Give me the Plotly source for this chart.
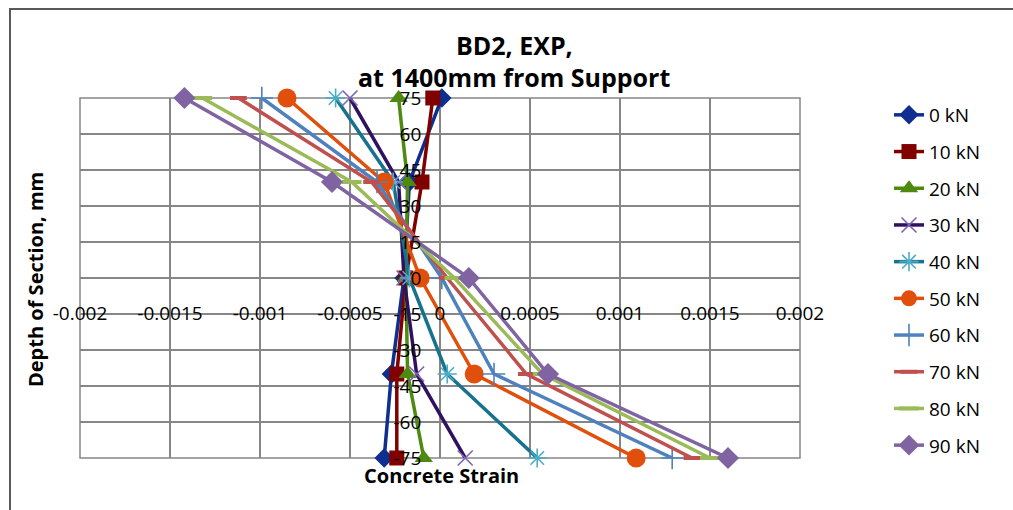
import plotly.graph_objects as go

# Depth of section (mm) at each strain gauge level
depth = [75, 40, 0, -40, -75]

# Concrete strain readings per load step
load_labels = ["0 kN", "10 kN", "20 kN", "30 kN", "40 kN",
               "50 kN", "60 kN", "70 kN", "80 kN", "90 kN"]
strain_0kN = [0.00001, -0.00017, -0.00020, -0.00027, -0.00031]
strain_10kN = [-0.00004, -0.00010, -0.00019, -0.00024, -0.00024]
strain_20kN = [-0.00023, -0.00018, -0.00019, -0.00018, -0.00009]
strain_30kN = [-0.00050, -0.00023, -0.00020, -0.00013, 0.00014]
strain_40kN = [-0.00058, -0.00026, -0.00017, 0.00004, 0.00054]
strain_50kN = [-0.00085, -0.00031, -0.00011, 0.00019, 0.00109]
strain_60kN = [-0.00099, -0.00035, 0.00001, 0.00030, 0.00129]
strain_70kN = [-0.00112, -0.00038, 0.00004, 0.00048, 0.00140]
strain_80kN = [-0.00132, -0.00049, 0.00008, 0.00057, 0.00150]
strain_90kN = [-0.00142, -0.00060, 0.00016, 0.00060, 0.00160]

x_tickvals = [-0.002, -0.0015, -0.001, -0.0005, 0, 0.0005, 0.001, 0.0015, 0.002]
x_ticktext = ["-0.002", "-0.0015", "-0.001", "-0.0005", "0", "0.0005", "0.001", "0.0015", "0.002"]
y_tickvals = [-75, -60, -45, -30, -15, 0, 15, 30, 45, 60, 75]
y_ticktext = ["-75", "-60", "-45", "-30", "-15", "0", "15", "30", "45", "60", "75"]

series = [strain_0kN, strain_10kN, strain_20kN, strain_30kN, strain_40kN,
          strain_50kN, strain_60kN, strain_70kN, strain_80kN, strain_90kN]

# line colour, marker symbol, marker size, marker fill, marker outline
styles = [
    ("#0e2f8f", "diamond", 15, "#0e2f8f", None),
    ("#800000", "square", 15, "#800000", None),
    ("#4f8a10", "triangle-up", 16, "#4f8a10", None),
    ("#2f1160", "x-thin-open", 15, None, "#7e63b8"),
    ("#17728e", "asterisk-open", 16, None, "#4bacc6"),
    ("#e0500c", "circle", 19, "#e0500c", None),
    ("#4f81bd", "cross-thin-open", 16, None, "#4f81bd"),
    ("#c0504d", "line-ew-open", 12, None, "#c0504d"),
    ("#9bbb59", "line-ew-open", 14, None, "#9bbb59"),
    ("#8064a2", "diamond", 17, "#8064a2", None),
]

FONT = "Open Sans"

fig = go.Figure()
for name, xs, (lc, sym, size, fill, outline) in zip(load_labels, series, styles):
    marker = dict(symbol=sym, size=size)
    if fill is not None:
        marker["color"] = fill
        marker["line"] = dict(width=0)
    else:
        marker["color"] = outline
        marker["line"] = dict(color=outline, width=1.6 if "line-ew" not in sym else 4)
    fig.add_trace(go.Scatter(
        x=xs, y=depth, name=name, mode="lines+markers",
        line=dict(color=lc, width=3.5),
        marker=marker, cliponaxis=False, legendgroup=name,
    ))

grid = "#868686"
fig.update_layout(
    width=1013, height=510,
    margin=dict(l=80, r=213, t=98, b=52),
    paper_bgcolor="white", plot_bgcolor="white",
    font=dict(family=FONT, color="#000000", size=19),
    showlegend=True,
    legend=dict(xref="container", yref="container",
                x=889 / 1013, y=1 - 96 / 510, xanchor="left", yanchor="top",
                font=dict(family=FONT, size=19), tracegroupgap=9,
                maxheight=420, bgcolor="rgba(0,0,0,0)"),
    xaxis=dict(range=[-0.002, 0.002], tickvals=x_tickvals, ticktext=x_ticktext,
               showgrid=True, gridcolor=grid, gridwidth=1.5, zeroline=False,
               showline=False, ticks="", anchor="free", position=0.44,
               tickfont=dict(size=19, family=FONT)),
    yaxis=dict(range=[-75, 75], tickvals=y_tickvals, ticktext=y_ticktext,
               showgrid=True, gridcolor=grid, gridwidth=1.5, zeroline=False,
               showline=False, ticks="", anchor="free", position=0.474,
               tickfont=dict(size=19, family=FONT)),
    shapes=[
        # plot-area frame on the outer grid edges
        dict(type="rect", xref="paper", yref="paper", x0=0, x1=1, y0=0, y1=1,
             line=dict(color=grid, width=1.5), layer="below"),
        # chart-area border
        dict(type="rect", xref="paper", yref="paper", x0=(10 - 80) / 720, x1=1.5,
             y0=-0.3, y1=(458 - 9) / 360,
             line=dict(color="#595959", width=2), layer="below"),
    ],
    annotations=[
        dict(text="<b>BD2, EXP,</b>", xref="paper", yref="paper",
             x=(514 - 80) / 720, y=(458 - 45) / 360, xanchor="center", yanchor="middle",
             showarrow=False, font=dict(size=25, family=FONT)),
        dict(text="<b>at 1400mm from Support</b>", xref="paper", yref="paper",
             x=(514 - 80) / 720, y=(458 - 77) / 360, xanchor="center", yanchor="middle",
             showarrow=False, font=dict(size=25, family=FONT)),
        dict(text="<b>Concrete Strain</b>", xref="paper", yref="paper",
             x=(441 - 80) / 720, y=(458 - 475) / 360, xanchor="center", yanchor="middle",
             showarrow=False, font=dict(size=20, family=FONT)),
        dict(text="<b>Depth of Section, mm</b>", xref="paper", yref="paper",
             x=(35 - 80) / 720, y=(458 - 280) / 360, xanchor="center", yanchor="middle",
             textangle=-90, showarrow=False, font=dict(size=20, family=FONT)),
    ],
)

fig.write_html("out.html")
